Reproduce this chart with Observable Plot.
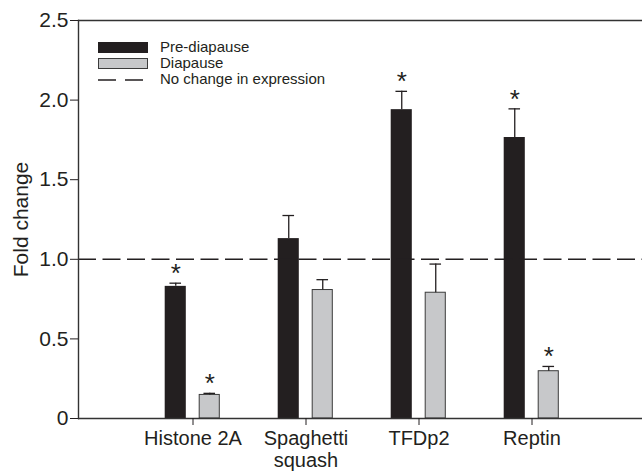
<!DOCTYPE html>
<html>
<head>
<meta charset="utf-8">
<script src="https://cdn.jsdelivr.net/npm/d3@7"></script>
<script src="https://cdn.jsdelivr.net/npm/@observablehq/plot@0.6"></script>
<style>
  html, body { margin: 0; padding: 0; background: #fff; }
  #wrap { position: relative; width: 642px; height: 473px; font-family: "Liberation Sans", Arial, sans-serif; color: #231f20; }
  #legend { position: absolute; left: 98px; top: 39px; font-size: 15px; line-height: 16px; }
  #legend .row { display: flex; align-items: center; height: 16px; }
  #legend .row span { display: inline-block; height: 16px; line-height: 16px; white-space: nowrap; }
  #legend svg { width: 50px; height: 13px; margin-right: 12px; display: block; }
</style>
</head>
<body>
<div id="wrap">
  <div id="chart"></div>
  <div id="legend"></div>
</div>
<script>
// ---- data ----
const genes = ["Histone 2A", "Spaghetti\nsquash", "TFDp2", "Reptin"];
const preValues = [0.83, 1.13, 1.94, 1.765];
const preErrors = [0.02, 0.145, 0.115, 0.18];
const preSignificant = [true, false, true, true];
const diaValues = [0.148, 0.807, 0.79, 0.297];
const diaErrors = [0.01, 0.065, 0.18, 0.03];
const diaSignificant = [true, false, false, true];
const yTicks = [0, 0.5, 1.0, 1.5, 2.0, 2.5];
const noChange = [1.0];
const seriesNames = ["Pre-diapause", "Diapause", "No change in expression"];

// ---- styles ----
const INK = "#231f20";
const GREY = "#c7c8ca";

const pre = genes.map((g, i) => ({gene: g, value: preValues[i], err: preErrors[i], sig: preSignificant[i]}));
const dia = genes.map((g, i) => ({gene: g, value: diaValues[i], err: diaErrors[i], sig: diaSignificant[i]}));

const half = 56.7;      // half band width
const preOff = -17.25, diaOff = 16.75;
const capHalf = 6;

const chart = Plot.plot({
  width: 642,
  height: 473,
  marginLeft: 78,
  marginRight: 0,
  marginTop: 20,
  marginBottom: 55,
  style: {fontFamily: "'Liberation Sans', Arial, sans-serif", color: INK, background: "#fff"},
  x: {type: "band", domain: genes, range: [78, 645], paddingInner: 0, paddingOuter: 0.5},
  y: {domain: [0, d3.max(yTicks)]},
  marks: [
    Plot.barY(pre, {x: "gene", y: "value", fill: INK, insetLeft: half - 28, insetRight: half + 6.5}),
    Plot.barY(dia, {x: "gene", y: "value", fill: GREY, stroke: "#3b3b3b", strokeWidth: 1, insetLeft: half + 6.5, insetRight: half - 27}),
    Plot.ruleX(pre, {x: "gene", y1: "value", y2: d => d.value + d.err, dx: preOff, stroke: INK, strokeWidth: 1.3}),
    Plot.ruleX(dia, {x: "gene", y1: "value", y2: d => d.value + d.err, dx: diaOff, stroke: INK, strokeWidth: 1.3}),
    Plot.tickY(pre, {x: "gene", y: d => d.value + d.err, dx: preOff, insetLeft: half - capHalf, insetRight: half - capHalf, stroke: INK, strokeWidth: 1.3}),
    Plot.tickY(dia, {x: "gene", y: d => d.value + d.err, dx: diaOff, insetLeft: half - capHalf, insetRight: half - capHalf, stroke: INK, strokeWidth: 1.3}),
    Plot.text(pre.filter(d => d.sig), {x: "gene", y: d => d.value + d.err, text: () => "*", dx: preOff, dy: -9.5, fontSize: 26, fill: INK}),
    Plot.text(dia.filter(d => d.sig), {x: "gene", y: d => d.value + d.err, text: () => "*", dx: diaOff, dy: -9.5, fontSize: 26, fill: INK}),
    Plot.ruleY(noChange, {stroke: INK, strokeWidth: 1.5, strokeDasharray: "18,6.5"}),
    Plot.ruleY([0], {stroke: "#333", strokeWidth: 1.4}),
    Plot.ruleY([d3.max(yTicks)], {stroke: "#333", strokeWidth: 1.4}),
    Plot.frame({anchor: "left", stroke: "#333", strokeWidth: 1.4}),
    Plot.axisY({ticks: yTicks, tickFormat: d => d === 0 ? "0" : d3.format(".1f")(d), tickSize: 8, tickPadding: 2, fontSize: 21,
      label: "Fold change", labelAnchor: "center", labelOffset: 65, labelArrow: "none"}),
    Plot.axisX({tickSize: 7, tickPadding: 4, fontSize: 20, lineHeight: 1.1, label: null})
  ]
});
document.getElementById("chart").appendChild(chart);

// ---- legend ----
const legend = document.getElementById("legend");
const swatches = [
  `<svg viewBox="0 0 50 13"><rect x="0" y="1" width="50" height="11" fill="${INK}"/></svg>`,
  `<svg viewBox="0 0 50 13"><rect x="0.5" y="1.5" width="49" height="10" fill="${GREY}" stroke="#3b3b3b" stroke-width="1"/></svg>`,
  `<svg viewBox="0 0 50 13"><line x1="0" x2="46" y1="7" y2="7" stroke="${INK}" stroke-width="1.5" stroke-dasharray="18,9"/></svg>`
];
seriesNames.forEach((name, i) => {
  const row = document.createElement("div");
  row.className = "row";
  row.innerHTML = swatches[i] + `<span>${name}</span>`;
  legend.appendChild(row);
});
</script>
</body>
</html>
